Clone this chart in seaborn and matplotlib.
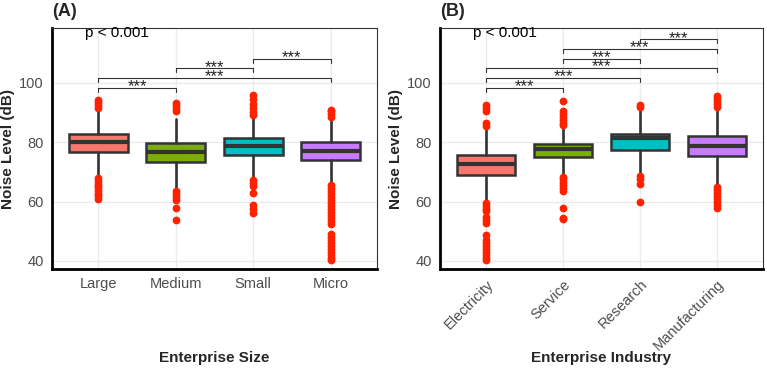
import numpy as np
import pandas as pd
import matplotlib
matplotlib.use("Agg")
import matplotlib.pyplot as plt
import seaborn as sns

# ---- data ----
size_cats = ["Large", "Medium", "Small", "Micro"]
size_q1 = [76.9, 73.3, 75.6, 74.1]
size_med = [80.0, 76.7, 78.6, 77.2]
size_q3 = [82.8, 79.7, 81.3, 80.0]
size_whislo = [68.9, 64.2, 68.1, 66.1]
size_whishi = [90.6, 87.8, 88.3, 87.6]

large_out = [91.6, 92.5, 93.5, 94.4, 61.0, 61.8, 62.5, 63.5, 64.5, 65.3, 66.0, 67.0, 68.0]
medium_out = [90.6, 91.5, 92.5, 93.3, 60.5, 61.5, 62.5, 63.5, 57.8, 53.7]
small_out = [89.3, 90.3, 91.5, 93.0, 94.5, 95.8, 65.2, 66.2, 67.3, 62.8, 56.3, 57.5, 59.0]
micro_out = [88.5, 89.5, 90.4, 91.0,
             65.5, 64.5, 63.5, 62.5, 61.5, 60.5, 59.5, 58.5, 57.5, 56.5, 55.5, 54.5,
             53.5, 52.5, 49.2, 48.0, 47.0, 46.0, 45.0, 44.0, 43.0, 42.0, 41.0, 40.3]

ind_cats = ["Electricity", "Service", "Research", "Manufacturing"]
ind_q1 = [69.1, 75.0, 77.3, 75.4]
ind_med = [72.8, 77.6, 81.6, 78.7]
ind_q3 = [75.7, 79.4, 82.9, 82.0]
ind_whislo = [60.0, 68.6, 69.4, 65.6]
ind_whishi = [84.6, 85.2, 90.8, 90.6]

elec_out = [85.4, 86.6, 90.5, 91.5, 92.6, 56.8, 57.6, 58.5, 59.4, 52.8, 53.8, 54.8,
            40.3, 41.0, 42.0, 43.0, 44.0, 45.0, 46.0, 47.2, 48.6]
serv_out = [85.8, 86.6, 87.5, 88.4, 89.4, 90.6, 93.9, 63.6, 64.5, 65.5, 66.5, 67.5, 68.2,
            57.8, 54.0, 54.6]
res_out = [92.0, 92.6, 66.0, 67.8, 68.8, 59.8]
manu_out = [92.0, 93.0, 94.0, 95.0, 95.7, 58.0, 59.0, 60.0, 61.0, 62.0, 63.0, 64.0, 65.0]

# significance brackets: (group i, group j) and bracket height
size_pairs = [(0, 1), (0, 3), (1, 2), (2, 3)]
size_heights = [98.3, 101.7, 105.0, 108.2]
ind_pairs = [(0, 1), (0, 2), (0, 3), (1, 2), (1, 3), (2, 3)]
ind_heights = [98.3, 101.7, 105.1, 108.2, 111.5, 114.8]

fills = ["#F8766D", "#7CAE00", "#00BFC4", "#C77CFF"]

sns.set_style("white")
plt.rcParams["font.family"] = ["Liberation Sans", "DejaVu Sans"]

fig = plt.figure(figsize=(7.67, 3.70), dpi=100)
axA = fig.add_axes([0.0678, 0.273, 0.4237, 0.651])
axB = fig.add_axes([0.5737, 0.273, 0.4211, 0.651])


def panel(ax, cats, q1, med, q3, lo, hi, outs, pairs, heights, letter, xlabel, rotate):
    rows = []
    for c, vals in zip(cats, outs):
        for v in vals:
            rows.append({"group": c, "value": v})
    df = pd.DataFrame(rows)

    stats = []
    for i in range(len(cats)):
        stats.append({"med": med[i], "q1": q1[i], "q3": q3[i],
                      "whislo": lo[i], "whishi": hi[i], "fliers": [], "label": cats[i]})
    bp = ax.bxp(stats, positions=range(len(cats)), widths=0.76, patch_artist=True,
                showfliers=False, showcaps=False, manage_ticks=False,
                boxprops=dict(edgecolor="#333333", linewidth=1.8),
                medianprops=dict(color="#333333", linewidth=3.0),
                whiskerprops=dict(color="#333333", linewidth=1.9))
    for patch, col in zip(bp["boxes"], fills):
        patch.set_facecolor(col)
        patch.set_zorder(2)

    # outliers
    sns.stripplot(data=df, x="group", y="value", order=cats, jitter=False,
                  color="#FF2200", size=5.6, linewidth=0, ax=ax, zorder=3)

    for (i, j), h in zip(pairs, heights):
        ax.plot([i, i, j, j], [h - 1.3, h, h, h - 1.3], color="#333333", lw=0.8, zorder=4)
        ax.text((i + j) / 2, h - 1.2, "***", ha="center", va="baseline", fontsize=12,
                color="#222222", zorder=5)

    ax.text(-0.17, 116.8, "p < 0.001", ha="left", va="center", fontsize=11, color="black")

    ax.set_xlim(-0.6, len(cats) - 0.4)
    ax.set_ylim(37.3, 118.5)
    ax.set_yticks([40, 60, 80, 100])
    ax.set_xticks(range(len(cats)))
    ax.grid(True, color="#EBEBEB", lw=1.0, zorder=0)
    ax.set_axisbelow(True)
    ax.tick_params(axis="both", length=3, width=1, color="#333333",
                   labelcolor="#4D4D4D", labelsize=10.5, pad=3)
    if rotate:
        ax.set_xticklabels(cats, rotation=45, ha="right", va="top", rotation_mode="anchor")
    else:
        ax.set_xticklabels(cats)
    for s in ["top", "right"]:
        ax.spines[s].set_linewidth(0.8)
        ax.spines[s].set_color("#333333")
    for s in ["left", "bottom"]:
        ax.spines[s].set_linewidth(2.0)
        ax.spines[s].set_color("black")
    ax.set_ylabel("Noise Level (dB)", fontsize=11, fontweight="bold", labelpad=3)
    ax.set_xlabel("")
    ax.text(0.0, 1.035, letter, transform=ax.transAxes, fontsize=13,
            fontweight="bold", ha="left", va="bottom")
    # x-axis titles sit at the same height in both panels
    pos = ax.get_position()
    fig.text((pos.x0 + pos.x1) / 2, 12 / 370, xlabel,
             ha="center", va="center", fontsize=11, fontweight="bold")


panel(axA, size_cats, size_q1, size_med, size_q3, size_whislo, size_whishi,
      [large_out, medium_out, small_out, micro_out], size_pairs, size_heights,
      "(A)", "Enterprise Size", False)
panel(axB, ind_cats, ind_q1, ind_med, ind_q3, ind_whislo, ind_whishi,
      [elec_out, serv_out, res_out, manu_out], ind_pairs, ind_heights,
      "(B)", "Enterprise Industry", True)

fig.savefig("out.png", dpi=100)
